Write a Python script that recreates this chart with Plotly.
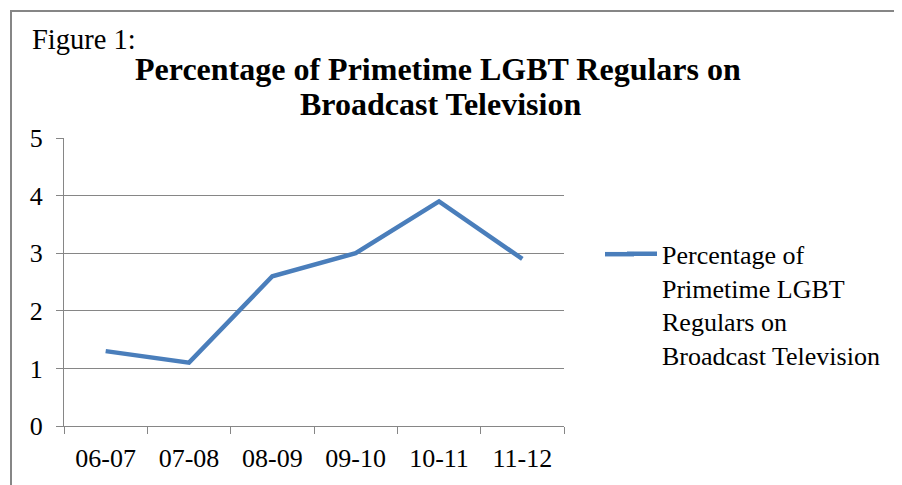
import plotly.graph_objects as go

seasons = ["06-07", "07-08", "08-09", "09-10", "10-11", "11-12"]
percent_lgbt = [1.3, 1.1, 2.6, 3.0, 3.9, 2.9]
legend_label = "Percentage of<br>Primetime LGBT<br>Regulars on<br>Broadcast Television"
y_ticks = [0, 1, 2, 3, 4, 5]
title_lines = ["Percentage of Primetime LGBT Regulars on", "Broadcast Television"]

# page has an 8px body margin; figure is sized to fit the window
OFF = 8
W, H = 902 - OFF, 485 - OFF
L, R, T, B = 64 - OFF, 902 - 564, 138 - OFF, 485 - 428
pw, ph = W - L - R, H - T - B

def px_x(x):  # reference-image pixel -> paper
    return (x - OFF - L) / pw

def px_y(y):
    return (H - B - (y - OFF)) / ph

line_color = "#4A7EBB"
fig = go.Figure()
fig.add_trace(go.Scatter(
    x=seasons, y=percent_lgbt, mode="lines", name=legend_label,
    line=dict(color=line_color, width=4.5),
))

font_family = "Liberation Serif"
grid = "#868686"

fig.update_layout(
    width=W, height=H,
    margin=dict(l=L, r=R, t=T, b=B),
    paper_bgcolor="white", plot_bgcolor="white",
    font=dict(family=font_family, size=26, color="black"),
    showlegend=True,
    legend=dict(x=px_x(622), y=px_y(231), xanchor="left", yanchor="top", valign="top",
                font=dict(size=26), bgcolor="rgba(0,0,0,0)", itemwidth=30),
    xaxis=dict(type="category", showgrid=False, showline=True, linecolor=grid, linewidth=1,
               ticks="outside", tickson="boundaries", ticklen=7, tickcolor=grid,
               tickfont=dict(size=26), range=[-0.5, 5.5], ticklabelstandoff=9),
    yaxis=dict(range=[0, 5], tickvals=y_ticks, showgrid=True, gridcolor=grid, gridwidth=1,
               showline=True, linecolor=grid, linewidth=1, ticks="outside", ticklen=7,
               tickcolor=grid, tickfont=dict(size=26), zeroline=False, ticklabelstandoff=8),
    shapes=[
        dict(type="rect", xref="paper", yref="paper",
             x0=px_x(11), x1=px_x(910), y0=px_y(495), y1=px_y(10),
             line=dict(color="#868686", width=2), fillcolor="rgba(0,0,0,0)", layer="below"),
        # extend legend sample to match the longer key line
        dict(type="line", xref="paper", yref="paper",
             x0=px_x(605), x1=px_x(634), y0=px_y(255), y1=px_y(255),
             line=dict(color=line_color, width=4.5)),
    ],
    annotations=[
        dict(text="Figure 1:", xref="paper", yref="paper", x=px_x(30), y=px_y(39),
             xanchor="left", yanchor="middle", showarrow=False, font=dict(size=28.5)),
        dict(text="<b>" + title_lines[0] + "</b>", xref="paper", yref="paper",
             x=px_x(438), y=px_y(69), xanchor="center", yanchor="middle",
             showarrow=False, font=dict(size=32)),
        dict(text="<b>" + title_lines[1] + "</b>", xref="paper", yref="paper",
             x=px_x(440), y=px_y(104), xanchor="center", yanchor="middle",
             showarrow=False, font=dict(size=32)),
    ],
)

fig.write_html("out.html")
